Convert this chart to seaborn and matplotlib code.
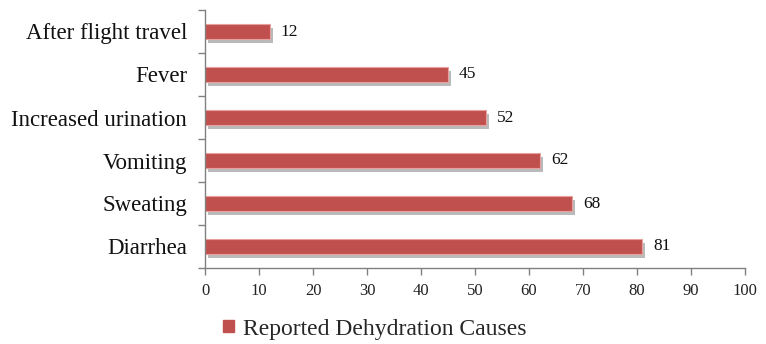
import matplotlib
matplotlib.use("Agg")
import matplotlib.pyplot as plt
import matplotlib.patheffects as pe
from matplotlib.patches import Patch
import seaborn as sns
import pandas as pd

categories = ["After flight travel", "Fever", "Increased urination", "Vomiting", "Sweating", "Diarrhea"]
values = [12, 45, 52, 62, 68, 81]
series_name = "Reported Dehydration Causes"
x_ticks = [0, 10, 20, 30, 40, 50, 60, 70, 80, 90, 100]

df = pd.DataFrame({"cause": categories, "count": values})

sns.set_theme(style="white")
plt.rcParams["font.family"] = ["Liberation Serif", "DejaVu Serif"]

fig = plt.figure(figsize=(7.66, 3.44), dpi=100)
ax = fig.add_axes([205 / 766, 1 - 268 / 344, 540 / 766, 258 / 344])

bar_color = "#C0504D"
sns.barplot(data=df, x="count", y="cause", order=categories, color=bar_color,
            width=0.36, ax=ax, saturation=1, edgecolor="#E8A09E", linewidth=0.8)

for p in ax.patches:
    p.set_path_effects([pe.SimplePatchShadow(offset=(2, -3), shadow_rgbFace="#8c8c8c", alpha=0.6),
                        pe.Normal()])

for p, v in zip(ax.patches, values):
    ax.annotate(str(v), (p.get_width(), p.get_y() + p.get_height() / 2),
                xytext=(8, 0), textcoords="offset points", va="center", ha="left",
                fontsize=12.5, color="#111111")

ax.set_xlim(0, 100)
ax.set_ylim(5.5, -0.5)
ax.set_xticks(x_ticks)
ax.set_xticklabels([str(t) for t in x_ticks], fontsize=12, color="#222222")
ax.set_yticks(range(len(categories)))
ax.set_yticklabels(categories, fontsize=16.5, color="#111111")
ax.set_xlabel("")
ax.set_ylabel("")

# tick marks at category boundaries on y axis
ax.set_yticks([i - 0.5 for i in range(len(categories) + 1)], minor=True)
ax.tick_params(axis="y", which="major", length=0, pad=13)
ax.tick_params(axis="y", which="minor", length=5, color="#808080", width=1, direction="out", left=True)
ax.tick_params(axis="x", which="major", length=5, color="#808080", width=1, direction="out", bottom=True, pad=6)

for s in ["top", "right"]:
    ax.spines[s].set_visible(False)
for s in ["left", "bottom"]:
    ax.spines[s].set_color("#808080")
    ax.spines[s].set_linewidth(1)

handle = Patch(facecolor=bar_color, edgecolor=bar_color)
fig.legend([handle], [series_name], loc="center", bbox_to_anchor=(375 / 766, 1 - 329 / 344),
           frameon=False, fontsize=17, handlelength=0.45, handleheight=0.45, handletextpad=0.4)

fig.savefig("out.png", dpi=100)
